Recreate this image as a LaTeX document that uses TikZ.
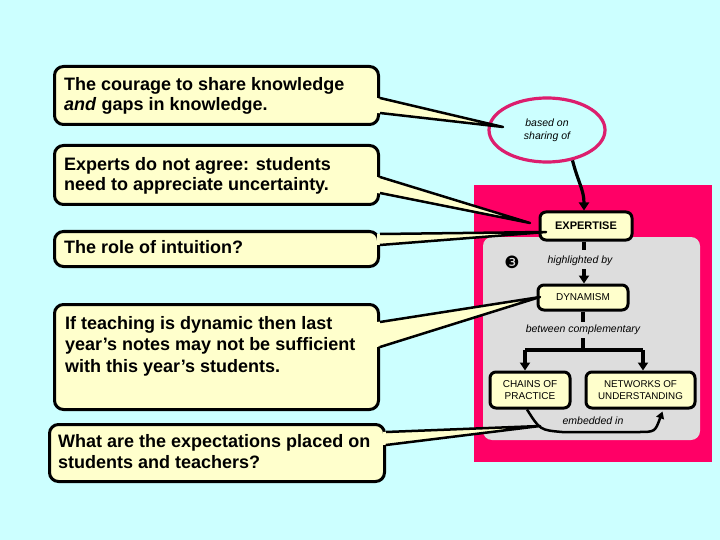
\documentclass[tikz,border=0pt]{standalone}
\usepackage{fontspec}
\setmainfont{Liberation Sans}
\newfontfamily\dejavu{DejaVu Sans}
\usetikzlibrary{shapes.geometric,arrows.meta,calc}
\definecolor{bgcyan}{RGB}{204,255,255}
\definecolor{cream}{RGB}{255,255,204}
\definecolor{hotpink}{RGB}{255,0,102}
\definecolor{panelgray}{RGB}{221,221,221}
\definecolor{ringred}{RGB}{220,30,110}
\begin{document}
\begin{tikzpicture}[x=1pt,y=-1pt,
 callout/.style={draw=black,line width=3pt,rounded corners=9pt,fill=cream,anchor=north west,inner sep=0pt},
 calltext/.style={anchor=north west,inner sep=0pt,align=left},
 tailfill/.style={fill=cream},
 tailline/.style={draw=black,line width=2.5pt,line join=round},
 concept/.style={draw=black,line width=3pt,rounded corners=6pt,fill=cream,inner sep=0pt,align=center,font=\fontsize{10}{12}\selectfont},
 linklabel/.style={inner sep=3pt,font=\fontsize{10.5}{13}\selectfont\itshape,align=center},
 flow/.style={draw=black,line width=3.2pt},
 arrowtip/.style={-{Triangle[width=10pt,length=8pt]}},
]
\useasboundingbox (0,0) rectangle (720,540);
\fill[bgcyan] (0,0) rectangle (720,540);

% panels
\fill[hotpink] (474,185) rectangle (712,462);
\fill[panelgray,rounded corners=9pt] (483,237) rectangle (700,440);

% ellipse
\node[ellipse,draw=ringred,line width=3.2pt,minimum width=116pt,minimum height=64pt,inner sep=0pt,
      font=\fontsize{10.5}{13}\selectfont\itshape,align=center] (ell) at (547,130) {based on\\sharing of};

% concepts
\node[concept,minimum width=92pt,minimum height=28pt,font=\fontsize{11}{13}\selectfont\bfseries] (exp) at (586,226) {EXPERTISE};
\node[concept,minimum width=90pt,minimum height=25pt] (dyn) at (583,297.5) {DYNAMISM};
\node[concept,minimum width=80pt,minimum height=36pt] (ch) at (530,390) {CHAINS OF\\PRACTICE};
\node[concept,minimum width=109pt,minimum height=36pt,font=\fontsize{9.8}{12}\selectfont] (nw) at (640.5,390) {NETWORKS OF\\UNDERSTANDING};

\node[font=\dejavu\fontsize{17}{17}\selectfont,inner sep=0pt] (num) at (512,262) {❸};

% links
\node[linklabel] (hl) at (580,261) {highlighted by};
\node[linklabel] (btw) at (583,330) {between complementary};
\node[linklabel,inner sep=0pt] (emb) at (593,421) {embedded in};

\draw[flow,arrowtip] (ell.-50) .. controls (578,182) and (584,190) .. (exp.north -| 584,0);
\draw[flow] (exp.south -| 584,0) -- (584,250);
\draw[flow,arrowtip] (584,269) -- (dyn.north -| 584,0);
\draw[flow] (dyn.south) -- (dyn.south |- btw.north);
\coordinate (jn) at (583,350);
\coordinate (jl) at (525,350);
\coordinate (jr) at (643,350);
\draw[flow] (dyn.south |- btw.south) -- (jn);
\draw[flow] (jl) -- (jr);
\draw[flow,arrowtip] (jl) -- (jl |- ch.north);
\draw[flow,arrowtip] (jr) -- (jr |- nw.north);
\draw[line width=2.5pt,-{Triangle[width=8pt,length=7pt]}] ($(ch.south)+(-3,0)$) .. controls (540,430) .. (562,432) -- (638,432) .. controls (655,432) .. ($(nw.south)+(22,2)$);

% callout boxes
\node[callout,minimum width=324pt,minimum height=58pt] (b1) at (53,65) {};
\node[callout,minimum width=324pt,minimum height=59pt] (b2) at (53,144) {};
\node[callout,minimum width=324pt,minimum height=35pt] (b3) at (53,230) {};
\node[callout,minimum width=324pt,minimum height=105pt] (b4) at (53,303) {};
\node[callout,minimum width=335pt,minimum height=57pt] (b5) at (48,423) {};

% tails
\coordinate (t1) at (503,127);
\coordinate (t2) at (530,223);
\coordinate (t3) at (546,232);
\coordinate (t4) at (540,297);
\coordinate (t5) at (540,426);
\foreach \b/\t/\ya/\yb in {b1/t1/33/48, b2/t2/33/49, b3/t3/4/15, b4/t4/19/44, b5/t5/9/22}{
  \fill[tailfill] ($(\b.north east)+(-3,\ya)$) -- (\t) -- ($(\b.north east)+(-3,\yb)$) -- cycle;
  \draw[tailline] ($(\b.north east)+(0,\ya)$) -- (\t) -- ($(\b.north east)+(0,\yb)$);
}

% callout texts
\node[calltext,font=\fontsize{18}{20}\selectfont\bfseries] (x1) at (64,77) {The courage to share knowledge\\\textit{and} gaps in knowledge.};
\node[calltext,font=\fontsize{18}{20}\selectfont\bfseries] (x2) at (64,157) {Experts do not agree: students\\need to appreciate uncertainty.};
\node[calltext,font=\fontsize{18}{20}\selectfont\bfseries] (x3) at (64,240) {The role of intuition?};
\node[calltext,font=\fontsize{18}{21.5}\selectfont\bfseries] (x4) at (65,316) {If teaching is dynamic then last\\year’s notes may not be sufficient\\with this year’s students.};
\node[calltext,font=\fontsize{18}{21}\selectfont\bfseries] (x5) at (58,434) {What are the expectations placed on\\students and teachers?};
\end{tikzpicture}
\end{document}
